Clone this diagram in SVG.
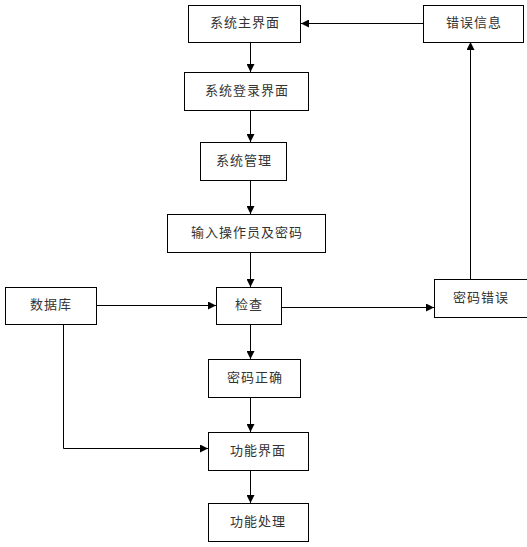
<svg xmlns="http://www.w3.org/2000/svg" width="527" height="547" viewBox="0 0 527 547">
<style>
.box{fill:#fff;stroke:#000;stroke-width:1}
.t{font-family:"Noto Sans CJK SC","Liberation Sans",sans-serif;font-size:13px;fill:#333;text-anchor:middle;dominant-baseline:central;letter-spacing:1px}
.c{fill:none;stroke:#000;stroke-width:1;marker-end:url(#ah)}
</style>
<defs>
<marker id="ah" markerWidth="8" markerHeight="8" refX="8" refY="4" orient="auto" markerUnits="userSpaceOnUse">
<path d="M0,0 L8,4 L0,8 Z" fill="#000"/>
</marker>
</defs>
<rect width="527" height="547" fill="#fff"/>
<g id="connectors">
<path class="c" d="M250.5,42 V72"/>
<path class="c" d="M250.5,110 V142"/>
<path class="c" d="M250.5,181 V214"/>
<path class="c" d="M250.5,252 V287"/>
<path class="c" d="M250.5,324 V359"/>
<path class="c" d="M250.5,398 V432"/>
<path class="c" d="M250.5,470 V503"/>
<path class="c" d="M97,305.5 H216"/>
<path class="c" d="M282,307.5 H434"/>
<path class="c" d="M470.5,279 V42"/>
<path class="c" d="M423,23.5 H301"/>
<path class="c" d="M63.5,324 V448.5 H208"/>
</g>
<g id="n1"><rect class="box" x="188.5" y="5.5" width="112" height="37"/><text class="t" x="245" y="21.5">系统主界面</text></g>
<g id="n2"><rect class="box" x="184.5" y="72.5" width="124" height="38"/><text class="t" x="247" y="89">系统登录界面</text></g>
<g id="n3"><rect class="box" x="200.5" y="142.5" width="86" height="38"/><text class="t" x="244" y="159">系统管理</text></g>
<g id="n4"><rect class="box" x="167.5" y="214.5" width="158" height="38"/><text class="t" x="247" y="231">输入操作员及密码</text></g>
<g id="n5"><rect class="box" x="5.5" y="287.5" width="91" height="37"/><text class="t" x="51" y="303.5">数据库</text></g>
<g id="n6"><rect class="box" x="216.5" y="287.5" width="65" height="37"/><text class="t" x="249" y="303.5">检查</text></g>
<g id="n7"><rect class="box" x="434.5" y="279.5" width="93" height="38"/><text class="t" x="481" y="296">密码错误</text></g>
<g id="n8"><rect class="box" x="423.5" y="5.5" width="100" height="37"/><text class="t" x="474" y="21.5">错误信息</text></g>
<g id="n9"><rect class="box" x="208.5" y="359.5" width="92" height="38"/><text class="t" x="255" y="376">密码正确</text></g>
<g id="n10"><rect class="box" x="208.5" y="432.5" width="100" height="38"/><text class="t" x="258" y="449">功能界面</text></g>
<g id="n11"><rect class="box" x="208.5" y="503.5" width="100" height="38"/><text class="t" x="258" y="520">功能处理</text></g>
</svg>
